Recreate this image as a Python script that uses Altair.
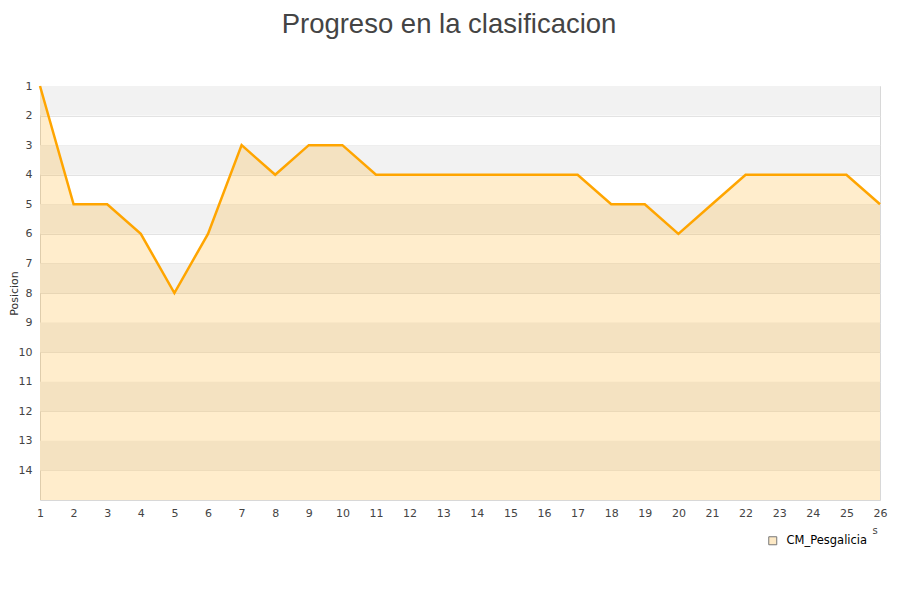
import altair as alt
import pandas as pd

jornadas = list(range(1, 27))
posiciones = [1, 5, 5, 6, 8, 6, 3, 4, 3, 3, 4, 4, 4, 4, 4, 4, 4, 5, 5, 6, 5, 4, 4, 4, 4, 5]
equipo = "CM_Pesgalicia"
band_starts = [1, 3, 5, 7, 9, 11, 13]
y_ticks = list(range(1, 15))
x_title_fragment = "s"

df = pd.DataFrame({"jornada": jornadas, "pos": posiciones, "equipo": [equipo] * len(jornadas)})
bands = pd.DataFrame({"y": band_starts, "y2": [b + 1 for b in band_starts]})

xscale = alt.Scale(domain=[1, 26], nice=False, zero=False)
yscale = alt.Scale(domain=[1, 15], reverse=True, nice=False, zero=False)

xaxis = alt.Axis(values=jornadas, title=None, grid=False, ticks=False, domain=False,
                 labelOverlap=False, labelFlush=False, labelFont="DejaVu Sans", labelFontSize=11,
                 labelColor="#444", labelPadding=7)
yaxis = alt.Axis(values=y_ticks, title="Posicion", grid=True, gridColor="#e3e3e3", ticks=False,
                 domain=False, labelOverlap=False, labelFlush=False, labelFont="DejaVu Sans",
                 labelFontSize=11, labelColor="#444", labelPadding=8, titleFont="DejaVu Sans",
                 titleFontSize=11, titleFontWeight="normal", titleColor="#333", titleX=-26,
                 titleY=207, titleBaseline="middle", titleAngle=-90, titleAlign="center")

X = alt.X("jornada:Q", scale=xscale, axis=xaxis)
Y = alt.Y("pos:Q", scale=yscale, axis=yaxis)

band_layer = alt.Chart(bands).mark_rect(color="#f2f2f2").encode(
    y=alt.Y("y:Q", scale=yscale, axis=yaxis),
    y2="y2:Q",
    x=alt.value(0), x2=alt.value(840),
)

area = alt.Chart(df).mark_area(fill="#FFA500", fillOpacity=0.2, line=False).encode(
    x=X, y=Y, y2=alt.datum(15),
)

legend_layer = alt.Chart(df).mark_square(size=0, opacity=0).encode(
    x=X, y=Y,
    fill=alt.Fill("equipo:N", scale=alt.Scale(domain=[equipo], range=["#fde9c5"]),
                  legend=alt.Legend(title=None, orient="none", legendX=727, legendY=449,
                                    symbolType="square", symbolSize=64, symbolStrokeColor="#777",
                                    symbolStrokeWidth=1, symbolOpacity=1, symbolFillColor="#fde9c5",
                                    labelFont="DejaVu Sans", labelFontSize=11.5, labelColor="#000",
                                    labelOffset=8)),
)

line = alt.Chart(df).mark_line(color="#FFA500", strokeWidth=2.5).encode(x=X, y=Y)

frag = alt.Chart(pd.DataFrame({"t": [x_title_fragment]})).mark_text(
    font="DejaVu Sans", fontSize=10, color="#444", baseline="middle", align="center"
).encode(text="t:N", x=alt.value(835), y=alt.value(445))

chart = alt.layer(band_layer, area, line, legend_layer, frag).properties(
    width=840, height=414,
    title=alt.TitleParams("Progreso en la clasificacion", font="Liberation Sans", fontSize=27.5,
                          fontWeight="normal", color="#444", anchor="middle", offset=42, dx=-11),
    autosize=alt.AutoSizeParams(type="none"),
    padding={"left": 32, "top": 78, "right": 12, "bottom": 80},
).configure_view(stroke="#d8d8d8", strokeWidth=1)

chart.save("out.html", embed_options={"renderer": "svg", "actions": False})
